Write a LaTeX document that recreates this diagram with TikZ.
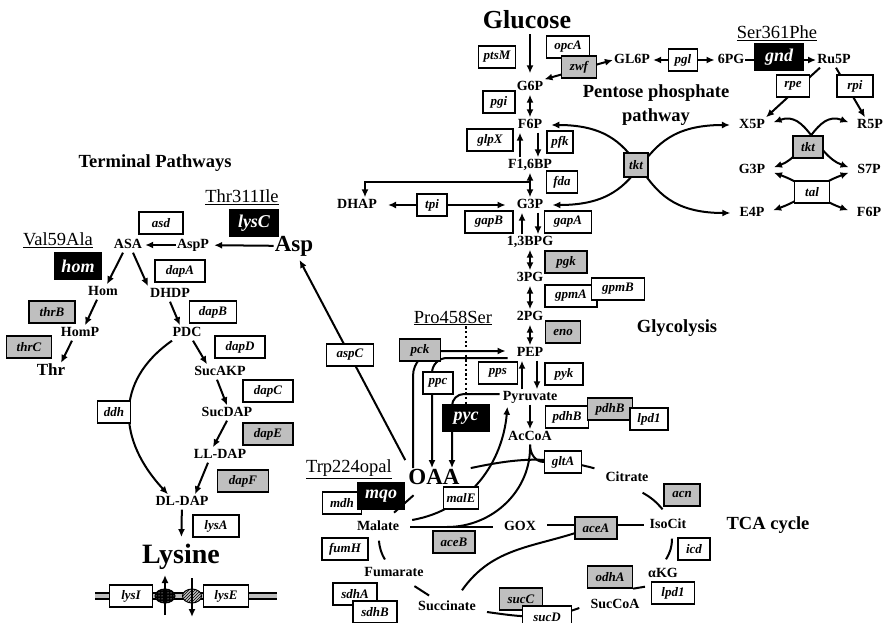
\documentclass[tikz,border=0pt]{standalone}
\usepackage{fontspec}
\setmainfont{Liberation Serif}
\usetikzlibrary{arrows.meta,positioning,shapes.geometric,patterns}
\definecolor{boxgray}{gray}{0.75}

\begin{document}
\begin{tikzpicture}[x=1pt,y=1pt]
    \tikzset{
      met/.style={font=\bfseries\fontsize{14}{14}\selectfont, text height=10pt, text depth=3pt, inner sep=1pt},
      bigmet/.style={font=\bfseries\fontsize{#1}{#1}\selectfont, inner sep=1pt},
      gene/.style={draw, line width=1.3pt, fill=white, minimum width=#1, minimum height=22pt, inner sep=0pt,
        font=\bfseries\itshape\fontsize{13}{13}\selectfont},
      graygene/.style={gene=#1, fill=boxgray},
      mutgene/.style={gene=#1, fill=black, text=white, minimum height=26pt,
        font=\bfseries\itshape\fontsize{18}{18}\selectfont},
      mutation/.style={font=\fontsize{18.5}{18.5}\selectfont, inner sep=1pt},
      pathtitle/.style={font=\bfseries\fontsize{18.5}{24}\selectfont, align=center},
      pore/.style={ellipse, draw, line width=1pt, minimum height=14pt, inner sep=0pt},
      rxn/.style={line width=2pt, -{Latex[length=8pt,width=7pt]}},
      rev/.style={line width=2pt, {Latex[length=8pt,width=7pt]}-{Latex[length=8pt,width=7pt]}},
      link/.style={line width=2pt}
    }
    \fill[white] (0,0) rectangle (887,-623);
    \useasboundingbox (0,0) rectangle (887,-623);

    % metabolites
    \node[bigmet=26] (glc) at (527,-20) {Glucose};
    \node[met] (g6p) at (530,-87) {G6P};
    \node[met] (f6p) at (530,-125) {F6P};
    \node[met] (f16bp) at (530,-165) {F1,6BP};
    \node[met] (g3p) at (530,-205) {G3P};
    \node[met] (bpg) at (530,-242) {1,3BPG};
    \node[met] (pga3) at (530,-278) {3PG};
    \node[met] (pga2) at (530,-317) {2PG};
    \node[met] (pep) at (530,-353) {PEP};
    \node[met] (pyr) at (530,-397) {Pyruvate};
    \node[met] (accoa) at (530,-437) {AcCoA};
    \node[met] (dhap) at (357,-205) {DHAP};
    \node[met] (gl6p) at (632,-60) {GL6P};
    \node[met] (pg6) at (731,-60) {6PG};
    \node[met] (ru5p) at (834,-60) {Ru5P};
    \node[met] (x5p) at (752,-125) {X5P};
    \node[met] (r5p) at (870,-125) {R5P};
    \node[met] (g3pb) at (752,-170) {G3P};
    \node[met] (s7p) at (869,-170) {S7P};
    \node[met] (e4p) at (752,-213) {E4P};
    \node[met] (f6pb) at (869,-213) {F6P};

    \node[bigmet=23] (oaa) at (434,-477) {OAA};
    \node[met] (cit) at (627,-478) {Citrate};
    \node[met] (icit) at (668,-525) {IsoCit};
    \node[met] (akg) at (663,-574) {αKG};
    \node[met] (succoa) at (615,-605) {SucCoA};
    \node[met] (succ) at (447,-607) {Succinate};
    \node[met] (fum) at (394,-573) {Fumarate};
    \node[met] (mal) at (378,-527) {Malate};
    \node[met] (gox) at (520,-527) {GOX};

    \node[bigmet=23] (asp) at (294,-246) {Asp};
    \node[met] (aspp) at (193,-245) {AspP};
    \node[met] (asa) at (128,-245) {ASA};
    \node[met] (homm) at (103,-292) {Hom};
    \node[met] (dhdp) at (170,-294) {DHDP};
    \node[met] (homp) at (80,-333) {HomP};
    \node[met] (pdc) at (187,-333) {PDC};
    \node[bigmet=17] (thr) at (51,-370) {Thr};
    \node[met] (sucakp) at (220,-372) {SucAKP};
    \node[met] (sucdap) at (227,-413) {SucDAP};
    \node[met] (lldap) at (220,-455) {LL-DAP};
    \node[met] (dldap) at (182,-502) {DL-DAP};
    \node[bigmet=28] (lys) at (181,-557) {Lysine};

    \node[pathtitle] (ppp) at (656,-105) {Pentose phosphate\\pathway};
    \node[pathtitle] (glyc) at (677,-328) {Glycolysis};
    \node[pathtitle] (tca) at (768,-525) {TCA cycle};
    \node[pathtitle] (term) at (155,-163) {Terminal Pathways};

    \node[mutation] (m361) at (777,-33) {\underline{Ser361Phe}};
    \node[mutation] (m458) at (453,-318) {\underline{Pro458Ser}};
    \node[mutation] (m224) at (349,-469) {\underline{Trp224opal}};
    \node[mutation] (m311) at (242,-197) {\underline{Thr311Ile}};
    \node[mutation] (m59) at (58,-240) {\underline{Val59Ala}};

    % glycolysis
    \draw[rxn, shorten <=4pt, shorten >=6pt] (glc.south -| g6p.north) -- (g6p.north);
    \foreach \a/\b in {g6p/f6p, f16bp/g3p, bpg/pga3, pga3/pga2, pga2/pep}
      \draw[rev] (\a) -- (\b);
    \foreach \a/\b/\s in {f6p/f16bp/8, g3p/bpg/8, pep/pyr/7}
      \draw[rxn] ([xshift=\s pt]\a.south) -- ([xshift=\s pt]\b.north);
    \foreach \a/\b/\s in {f16bp/f6p/-10, bpg/g3p/-8, pyr/pep/-8}
      \draw[rxn] ([xshift=\s pt]\a.north) -- ([xshift=\s pt]\b.south);
    \draw[rxn] (pyr) -- (accoa);
    \draw[rxn] ([yshift=-9pt]f16bp.south) -| ([xshift=8pt]dhap.north);
    \draw[rev, shorten <=10pt, shorten >=10pt] (dhap) -- (g3p);

    % pentose phosphate pathway
    \draw[rev] (g6p.north east) -- (gl6p.west);
    \draw[rev, shorten <=2pt, shorten >=2pt] (gl6p) -- (pg6);
    \draw[rxn] (pg6) -- (ru5p);
    \draw[rxn] ([xshift=-14pt]ru5p.south) -- (x5p.north east);
    \draw[rxn] ([xshift=2pt]ru5p.south) -- ([xshift=-5pt]r5p.north);
    \draw[rev, shorten <=8pt, shorten >=8pt] (f6p.east) to[out=0, in=180, looseness=1.4] (e4p.west);
    \draw[rev, shorten <=8pt, shorten >=8pt] (x5p.west) to[out=180, in=0, looseness=1.4] (g3p.east);
    \draw[rev, shorten <=8pt, shorten >=8pt] (x5p.east) to[out=20, in=160, looseness=1.1] (s7p.west);
    \draw[rev, shorten <=8pt, shorten >=8pt] (r5p.west) to[out=160, in=20, looseness=1.1] (g3pb.east);
    \draw[rev, shorten <=8pt, shorten >=8pt] (g3pb.east) to[out=-20, in=160, looseness=1.1] (f6pb.west);
    \draw[rev, shorten <=8pt, shorten >=8pt] (s7p.west) to[out=200, in=20, looseness=1.1] (e4p.east);

    % terminal pathways
    \draw[rxn, shorten >=4pt] (asp) -- (aspp);
    \draw[rxn, shorten >=2pt] (aspp) -- (asa);
    \draw[rxn] ([xshift=-5pt]asa.south) -- ([xshift=4pt]homm.north);
    \draw[rxn] ([xshift=5pt]asa.south) -- ([xshift=-22pt]dhdp.north);
    \draw[rxn] ([xshift=-6pt]homm.south) -- ([xshift=5pt]homp.north);
    \draw[rxn] (dhdp.south) -- ([xshift=-7pt]pdc.north);
    \draw[rxn] ([xshift=-8pt]homp.south) -- ([xshift=10pt]thr.north);
    \draw[rxn] ([xshift=6pt]pdc.south) -- ([xshift=-13pt]sucakp.north);
    \draw[rxn] ([xshift=-3pt]sucakp.south) -- (sucdap.north);
    \draw[rxn] (sucdap.south) -- ([xshift=-7pt]lldap.north);
    \draw[rxn] ([xshift=-12pt]lldap.south) -- ([xshift=13pt]dldap.north);
    \draw[rxn] ([xshift=-15pt]pdc.south) to[out=215, in=133, looseness=1.2] ([xshift=-14pt]dldap.north);
    \draw[rxn, shorten >=6pt] (dldap) -- (lys);

    % anaplerotic reactions
    \draw[rxn, shorten >=3pt] ([xshift=-2pt,yshift=8pt]oaa.north west) -- (asp.-70);
    \draw[rxn, rounded corners=25pt, shorten >=10pt] ([xshift=-21pt]oaa.north) |- ([yshift=2pt]pep.west);
    \draw[rxn, rounded corners=15pt, shorten <=8pt] ([yshift=-5pt]pep.west) -| ([xshift=-2pt]oaa.north);
    \draw[rxn, rounded corners=12pt, shorten <=2pt] ([yshift=3pt]pyr.west) -| ([xshift=18pt]oaa.north);
    \draw[rxn, shorten >=2pt] ([xshift=12pt,yshift=7pt]mal.east) to[out=10, in=-95] ([xshift=6pt]pyr.south west);

    % TCA cycle and glyoxylate shunt
    \draw[link] ([xshift=10pt]oaa.north east) to[out=12, in=165] ([xshift=-10pt,yshift=2pt]cit.north west);
    \draw[link] ([xshift=-7pt,yshift=-7pt]cit.south east) to[bend left=10] ([xshift=14pt,yshift=8pt]icit.north west);
    \draw[link] ([xshift=4pt,yshift=-6pt]icit.south) to[bend left=15] ([xshift=3pt,yshift=7pt]akg.north);
    \draw[link] ([xshift=10pt,yshift=-5pt]succ.east) to[out=-8, in=200] ([xshift=-10pt,yshift=-3pt]succoa.west);
    \draw[link, shorten <=10pt, shorten >=7pt] (fum) -- (succ);
    \draw[link, shorten <=6pt, shorten >=7pt] (mal) to[bend right=15] (fum);
    \draw[link, shorten <=10pt, shorten >=14pt] (mal) -- (oaa);
    \draw[link, shorten <=5pt, shorten >=10pt] (icit.west) -- (icit.west -| gox.east);
    \draw[link] ([xshift=50pt,yshift=-2pt]gox.east) to[out=200, in=55] ([xshift=15pt,yshift=9pt]succ.north);
    \draw[link, shorten <=10pt, shorten >=10pt] (gox.west) -- (mal.east);
    \coordinate (msjoin) at (447,-527);
    \draw[link] (accoa.south) to[out=-88, in=0] (msjoin);

    % lysine transport
    \coordinate (memL) at (95,-596);
    \coordinate (memR) at (277,-596);
    \draw[line width=7.5pt] (memL) -- (memR);
    \draw[line width=4.5pt, boxgray] (memL) -- (memR);

    % genes
    \node[gene=37] (ptsM) at (497,-57) {ptsM};
    \node[gene=43] (opcA) at (568,-47) {opcA};
    \node[graygene=35] (zwf) at (579,-67) {zwf};
    \node[gene=29] (pgl) at (683,-60) {pgl};
    \node[mutgene=48] (gnd) at (779,-57) {gnd};
    \node[gene=33] (rpe) at (793,-86) {rpe};
    \node[gene=36] (rpi) at (855,-86) {rpi};
    \node[graygene=24, minimum height=24pt] (tktA) at (636,-165) {tkt};
    \node[graygene=30] (tktB) at (808,-147) {tkt};
    \node[gene=35] (tal) at (812,-192) {tal};
    \node[gene=32] (pgi) at (499,-102) {pgi};
    \node[gene=46] (glpX) at (490,-140) {glpX};
    \node[gene=26] (pfk) at (560,-142) {pfk};
    \node[gene=31] (fda) at (562,-182) {fda};
    \node[gene=30] (tpi) at (432,-205) {tpi};
    \node[gene=48] (gapB) at (489,-222) {gapB};
    \node[gene=47] (gapA) at (568,-222) {gapA};
    \node[graygene=42] (pgk) at (566,-262) {pgk};
    \node[gene=52] (gpmA) at (571,-296) {gpmA};
    \node[gene=53] (gpmB) at (618,-289) {gpmB};
    \node[graygene=35] (eno) at (563,-332) {eno};
    \node[graygene=41] (pck) at (420,-350) {pck};
    \node[gene=47] (aspC) at (350,-355) {aspC};
    \node[gene=39] (pps) at (498,-373) {pps};
    \node[gene=38] (pyk) at (564,-374) {pyk};
    \node[gene=30] (ppc) at (438,-383) {ppc};
    \node[mutgene=47] (pyc) at (466,-418) {pyc};
    \node[gene=43] (pdhBa) at (567,-417) {pdhB};
    \node[graygene=45] (pdhBb) at (610,-409) {pdhB};
    \node[gene=38] (lpdA) at (649,-419) {lpd1};
    \node[gene=37] (gltA) at (563,-462) {gltA};
    \node[graygene=36] (acn) at (682,-495) {acn};
    \node[gene=39] (mdh) at (342,-503) {mdh};
    \node[mutgene=47] (mqo) at (381,-496) {mqo};
    \node[gene=35] (malE) at (461,-498) {malE};
    \node[graygene=42] (aceA) at (596,-528) {aceA};
    \node[graygene=42] (aceB) at (454,-542) {aceB};
    \node[gene=46] (fumH) at (345,-549) {fumH};
    \node[gene=32] (icd) at (694,-549) {icd};
    \node[graygene=45] (odhA) at (610,-577) {odhA};
    \node[gene=43] (lpdB) at (673,-593) {lpd1};
    \node[gene=44] (sdhA) at (355,-594) {sdhA};
    \node[gene=44] (sdhB) at (375,-612) {sdhB};
    \node[graygene=43] (sucC) at (521,-599) {sucC};
    \node[gene=49] (sucD) at (547,-617) {sucD};
    \node[gene=44] (asd) at (161,-223) {asd};
    \node[mutgene=48] (lysC) at (254,-223) {lysC};
    \node[mutgene=47] (hom) at (78,-266) {hom};
    \node[gene=50] (dapA) at (180,-271) {dapA};
    \node[graygene=46] (thrB) at (52,-312) {thrB};
    \node[gene=47] (dapB) at (213,-312) {dapB};
    \node[graygene=45] (thrC) at (29,-347) {thrC};
    \node[gene=50] (dapD) at (240,-347) {dapD};
    \node[gene=50] (dapC) at (268,-391) {dapC};
    \node[graygene=50] (dapE) at (268,-434) {dapE};
    \node[gene=33] (ddh) at (114,-412) {ddh};
    \node[graygene=51] (dapF) at (243,-481) {dapF};
    \node[gene=46] (lysA) at (216,-526) {lysA};
    \node[gene=43] (lysI) at (131,-596) {lysI};
    \node[gene=45] (lysE) at (226,-596) {lysE};
    \node[pore, minimum width=20pt, preaction={fill=black}, pattern=dots, pattern color=white] (lysIpore) at (165,-596) {};
    \node[pore, minimum width=19pt, preaction={fill=boxgray}, pattern=north east lines] (lysEpore) at (192,-596) {};

    % connectors ending at gene boxes
    \draw[link] (accoa.south) to[out=-90, in=180] (gltA.west);
    \draw[link] ([xshift=-2pt,yshift=-5pt]akg.south west) -- (odhA.south east);
    \draw[line width=2.2pt, dash pattern=on 2.2pt off 2.5pt] (m458.south -| pyc.north) -- (pyc.north);
    \draw[rxn] ([yshift=-19pt]lysIpore.center) -- ([yshift=21pt]lysIpore.center);
    \draw[rxn] ([yshift=18pt]lysEpore.center) -- ([yshift=-21pt]lysEpore.center);
  \end{tikzpicture}
\end{document}
